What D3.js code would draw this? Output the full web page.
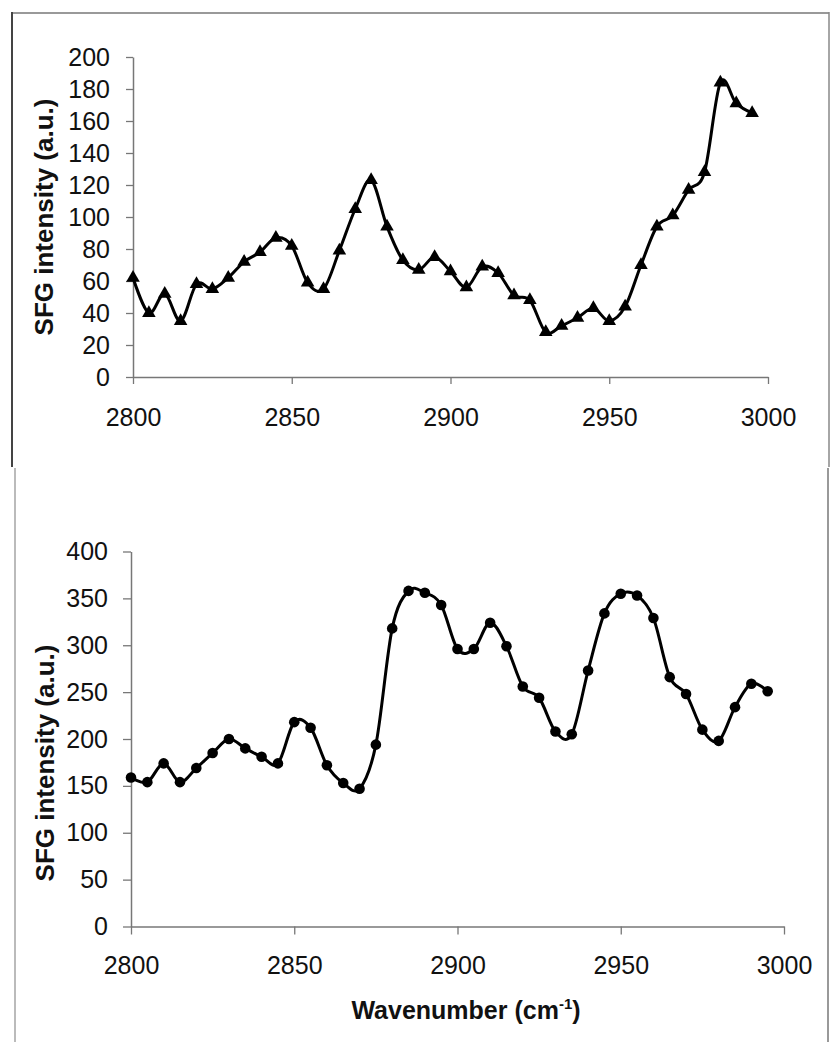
<!DOCTYPE html>
<html>
<head>
<meta charset="utf-8">
<script src="https://cdn.jsdelivr.net/npm/d3@7"></script>
<style>
  html, body { margin: 0; padding: 0; background: #fff; }
  svg { display: block; }
  text { font-family: "Liberation Sans", Arial, sans-serif; fill: #111; }
</style>
</head>
<body>
<svg id="chart" width="837" height="1050"></svg>
<script>
// ---------- data ----------
const wavenumbers = [2800, 2805, 2810, 2815, 2820, 2825, 2830, 2835, 2840, 2845,
                     2850, 2855, 2860, 2865, 2870, 2875, 2880, 2885, 2890, 2895,
                     2900, 2905, 2910, 2915, 2920, 2925, 2930, 2935, 2940, 2945,
                     2950, 2955, 2960, 2965, 2970, 2975, 2980, 2985, 2990, 2995];
const topValues = [62, 40, 52, 35, 58, 55, 62, 72, 78, 87,
                   82, 59, 55, 79, 105, 123, 94, 73, 67, 75,
                   66, 56, 69, 65, 51, 48, 28, 32, 37, 43,
                   35, 44, 70, 94, 101, 117, 128, 184, 171, 165];
const bottomValues = [159, 154, 174, 154, 169, 185, 200, 190, 181, 174,
                      218, 212, 172, 153, 147, 194, 318, 358, 356, 343,
                      296, 296, 324, 299, 256, 244, 208, 205, 273, 334,
                      355, 353, 329, 266, 248, 210, 198, 234, 259, 251];
const xTicks = [2800, 2850, 2900, 2950, 3000];
const topYTicks = [0, 20, 40, 60, 80, 100, 120, 140, 160, 180, 200];
const bottomYTicks = [0, 50, 100, 150, 200, 250, 300, 350, 400];
const yTitle = "SFG intensity (a.u.)";
const xTitle = "Wavenumber (cm";
const xTitleSup = "-1";

const svg = d3.select("#chart");

// ---------- frame lines ----------
const frame = svg.append("g");
frame.append("line").attr("x1", 12).attr("y1", 13).attr("x2", 829).attr("y2", 13)
  .attr("stroke", "#777").attr("stroke-width", 1.5);
frame.append("line").attr("x1", 12).attr("y1", 12).attr("x2", 12).attr("y2", 467)
  .attr("stroke", "#444").attr("stroke-width", 2);
frame.append("line").attr("x1", 829).attr("y1", 12).attr("x2", 829).attr("y2", 467)
  .attr("stroke", "#888").attr("stroke-width", 1.5);
frame.append("line").attr("x1", 15).attr("y1", 468).attr("x2", 15).attr("y2", 1042)
  .attr("stroke", "#bbb").attr("stroke-width", 2);
frame.append("line").attr("x1", 828).attr("y1", 468).attr("x2", 828).attr("y2", 1042)
  .attr("stroke", "#999").attr("stroke-width", 2);

const curve = d3.curveCardinal.tension(0);

function styleAxis(a, size) {
  a.select(".domain").attr("stroke", "#777").attr("stroke-width", 1.5);
  a.selectAll(".tick line").attr("stroke", "#777").attr("stroke-width", 1.3);
  a.selectAll(".tick text").attr("font-size", size).attr("fill", "#111")
    .attr("font-family", "Liberation Sans, Arial, sans-serif");
}

// ---------- top chart ----------
{
  const x = d3.scaleLinear().domain([2800, 3000]).range([133, 768]);
  const y = d3.scaleLinear().domain([0, 200]).range([377, 57]);
  const g = svg.append("g");

  const xa = g.append("g").attr("transform", "translate(0,377)")
    .call(d3.axisBottom(x).tickValues(xTicks).tickFormat(d3.format("d"))
      .tickSizeInner(7).tickSizeOuter(0).tickPadding(24));
  const ya = g.append("g").attr("transform", "translate(133,0)")
    .call(d3.axisLeft(y).tickValues(topYTicks).tickFormat(d3.format("d"))
      .tickSizeInner(7).tickSizeOuter(0).tickPadding(16));
  styleAxis(xa, 25);
  styleAxis(ya, 25);

  g.append("text")
    .attr("transform", "translate(53,217) rotate(-90)")
    .attr("text-anchor", "middle")
    .attr("font-size", 26).attr("font-weight", "bold")
    .text(yTitle);

  const pts = wavenumbers.map((w, i) => [w, topValues[i]]);
  g.append("path")
    .attr("d", d3.line().x(d => x(d[0])).y(d => y(d[1])).curve(curve)(pts))
    .attr("fill", "none").attr("stroke", "#000").attr("stroke-width", 3)
    .attr("stroke-linejoin", "round");
  g.selectAll(".tri").data(pts).join("path")
    .attr("transform", d => `translate(${x(d[0])},${y(d[1])})`)
    .attr("d", d3.symbol(d3.symbolTriangle, 80)())
    .attr("fill", "#000");
}

// ---------- bottom chart ----------
{
  const x = d3.scaleLinear().domain([2800, 3000]).range([131, 784]);
  const y = d3.scaleLinear().domain([0, 400]).range([926.5, 551.5]);
  const g = svg.append("g");

  const xa = g.append("g").attr("transform", "translate(0,926.5)")
    .call(d3.axisBottom(x).tickValues(xTicks).tickFormat(d3.format("d"))
      .tickSizeInner(8).tickSizeOuter(0).tickPadding(22));
  const ya = g.append("g").attr("transform", "translate(131,0)")
    .call(d3.axisLeft(y).tickValues(bottomYTicks).tickFormat(d3.format("d"))
      .tickSizeInner(8).tickSizeOuter(0).tickPadding(15));
  styleAxis(xa, 25);
  styleAxis(ya, 25);

  g.append("text")
    .attr("transform", "translate(54,763) rotate(-90)")
    .attr("text-anchor", "middle")
    .attr("font-size", 26).attr("font-weight", "bold")
    .text(yTitle);

  const xt = g.append("text")
    .attr("transform", "translate(466,1019)")
    .attr("text-anchor", "middle")
    .attr("font-size", 25).attr("font-weight", "bold");
  xt.append("tspan").text(xTitle);
  xt.append("tspan").attr("font-size", 15).attr("dy", -10).text(xTitleSup);
  xt.append("tspan").attr("dy", 10).text(")");

  const pts = wavenumbers.map((w, i) => [w, bottomValues[i]]);
  g.append("path")
    .attr("d", d3.line().x(d => x(d[0])).y(d => y(d[1])).curve(curve)(pts))
    .attr("fill", "none").attr("stroke", "#000").attr("stroke-width", 3)
    .attr("stroke-linejoin", "round");
  g.selectAll(".dot").data(pts).join("circle")
    .attr("cx", d => x(d[0])).attr("cy", d => y(d[1]))
    .attr("r", 5.3)
    .attr("fill", "#000");
}
</script>
</body>
</html>
